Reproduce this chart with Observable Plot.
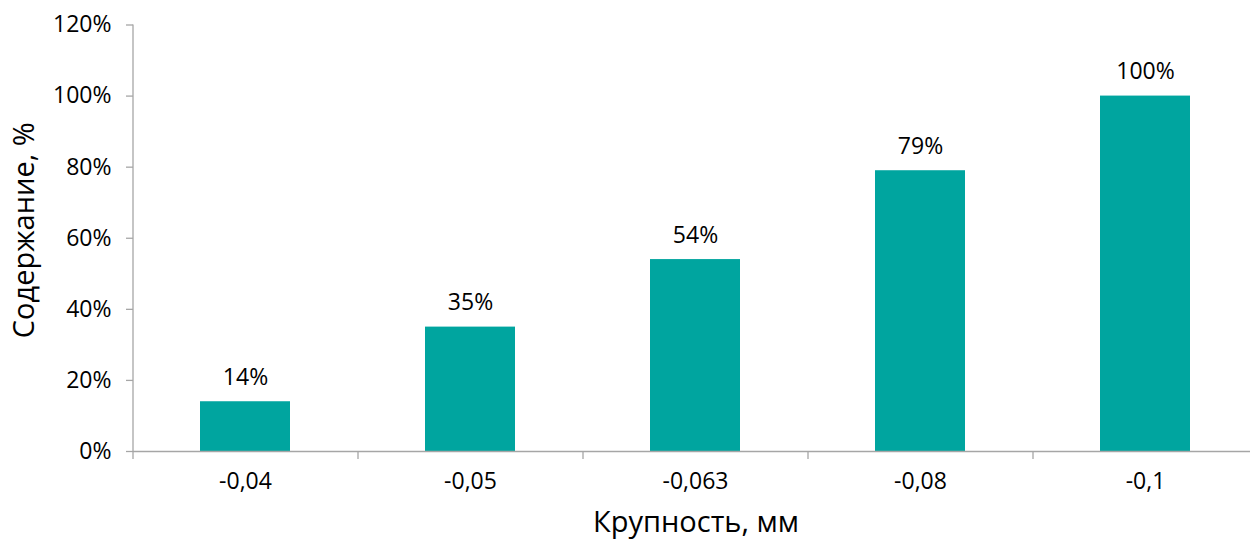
<!DOCTYPE html>
<html>
<head>
<meta charset="utf-8">
<script src="https://cdn.jsdelivr.net/npm/d3@7"></script>
<script src="https://cdn.jsdelivr.net/npm/@observablehq/plot@0.6"></script>
<style>
  html, body { margin: 0; padding: 0; background: #fff; }
  #chart svg { display: block; overflow: visible; }
</style>
</head>
<body>
<div id="chart"></div>
<script>
const categories = ["-0,04", "-0,05", "-0,063", "-0,08", "-0,1"];
const values = [14, 35, 54, 79, 100];
const yTicks = [0, 20, 40, 60, 80, 100, 120];
const xTitle = "Крупность, мм";
const yTitle = "Содержание, %";

const data = categories.map((c, i) => ({cat: c, v: values[i]}));

const W = 1250, H = 540;
const mL = 133, mR = -8, mT = 24.5, mB = 89;
const step = (W - mL - mR) / categories.length;
const axisColor = "#a6a6a6";
const font = "'Open Sans', 'Noto Sans', sans-serif";

const chart = Plot.plot({
  width: W,
  height: H,
  marginLeft: mL,
  marginRight: mR,
  marginTop: mT,
  marginBottom: mB,
  style: {fontFamily: font, fontSize: "23px", color: "#000", background: "#fff"},
  x: {type: "band", domain: categories, paddingInner: 0.6, paddingOuter: 0.3, align: 0.5, axis: null},
  y: {domain: [0, 120], axis: null},
  marks: [
    Plot.barY(data, {x: "cat", y: "v", fill: "#00a59f"}),
    // y axis line
    Plot.ruleX([categories[0]], {x: d => d, dx: -step / 2, y1: 0, y2: 120, stroke: axisColor, strokeWidth: 1.3}),
    // x axis line
    Plot.ruleY([0], {stroke: axisColor, strokeWidth: 1.3}),
    // y ticks
    Plot.axisY(yTicks, {tickSize: 7, tickPadding: 15, stroke: axisColor, strokeWidth: 1.3, fill: "#000", fontSize: 23, tickFormat: d => d + "%", label: null}),
    // x boundary ticks
    Plot.axisX(categories, {tickSize: 8, dx: -step / 2, text: null, stroke: axisColor, strokeWidth: 1.3, label: null}),
    // x tick labels
    Plot.text(categories, {x: d => d, frameAnchor: "bottom", dy: 30, lineAnchor: "middle", fontSize: 23, fill: "#000"}),
    // value labels
    Plot.text(data, {x: "cat", y: "v", text: d => d.v + "%", lineAnchor: "middle", dy: -24, fontSize: 23, fill: "#000"}),
    // titles
    Plot.text([xTitle], {frameAnchor: "bottom", dy: 71, lineAnchor: "middle", textAnchor: "middle", fontSize: 29, fill: "#000"}),
    Plot.text([yTitle], {frameAnchor: "left", rotate: -90, dx: -109, dy: -8, lineAnchor: "middle", textAnchor: "middle", fontSize: 29, fill: "#000"})
  ]
});
document.getElementById("chart").appendChild(chart);
</script>
</body>
</html>
